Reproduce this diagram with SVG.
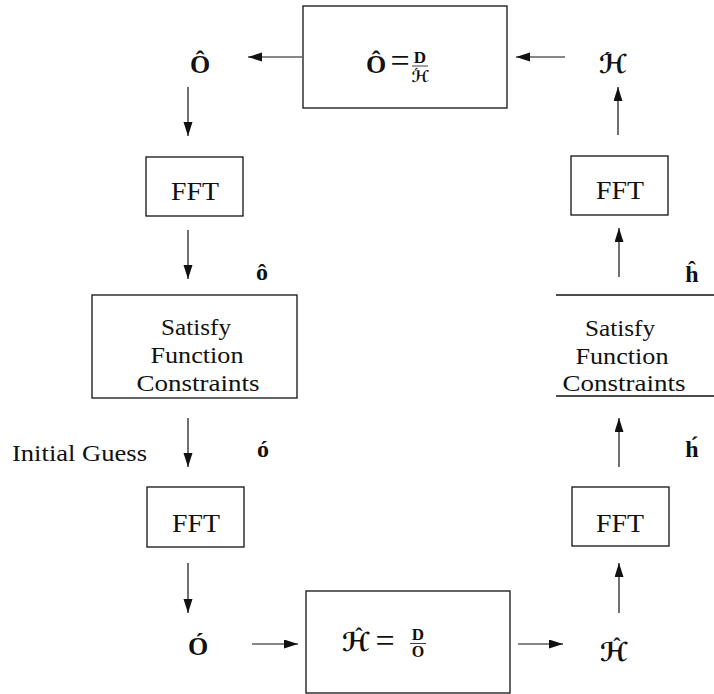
<svg xmlns="http://www.w3.org/2000/svg" width="714" height="694" viewBox="0 0 714 694">
<style>
.box{fill:none;stroke:#111;stroke-width:1.3}
.t{font-family:"Liberation Serif","Times New Roman",serif;font-size:23px;fill:#111;text-anchor:middle}
.f{font-family:"Liberation Serif","Times New Roman",serif;font-size:26px;fill:#111;text-anchor:middle}
.m{font-family:"Liberation Serif",serif;font-weight:bold;font-size:26px;fill:#111;text-anchor:middle}
.ml{font-family:"Liberation Serif",serif;font-weight:bold;font-size:24px;fill:#111;text-anchor:middle}
.eq{font-family:"Liberation Serif",serif;font-size:34px;fill:#111;text-anchor:middle}
.s{font-family:"DejaVu Serif","DejaVu Sans",serif;font-weight:bold;font-size:26px;fill:#111;text-anchor:middle}
.acc{font-family:"Liberation Serif",serif;font-weight:bold;font-size:22px}
.sm{font-family:"Liberation Serif",serif;font-weight:bold;font-size:17px;fill:#111;text-anchor:middle}
.ss{font-family:"DejaVu Serif","DejaVu Sans",serif;font-weight:bold;font-size:16px;fill:#111;text-anchor:middle}
.c{stroke:#111;stroke-width:1.2;fill:none;marker-end:url(#ah)}
</style>
<defs>
<marker id="ah" markerUnits="userSpaceOnUse" markerWidth="15" markerHeight="10" refX="14" refY="4.5" orient="auto">
<path d="M0,0 L14,4.5 L0,9 Z" fill="#111"/>
</marker>
</defs>
<rect width="714" height="694" fill="#fff"/>

<g id="connectors">
<line class="c" x1="302" y1="57" x2="248" y2="57"/>
<line class="c" x1="565" y1="57" x2="516" y2="57"/>
<line class="c" x1="188" y1="87" x2="188" y2="136"/>
<line class="c" x1="188" y1="230" x2="188" y2="279"/>
<line class="c" x1="188" y1="418" x2="188" y2="467"/>
<line class="c" x1="188" y1="563" x2="188" y2="613"/>
<line class="c" x1="252" y1="644" x2="298" y2="644"/>
<line class="c" x1="518" y1="644" x2="563" y2="644"/>
<line class="c" x1="619" y1="613" x2="619" y2="563"/>
<line class="c" x1="619" y1="467" x2="619" y2="418"/>
<line class="c" x1="619" y1="277" x2="619" y2="228"/>
<line class="c" x1="618" y1="135" x2="618" y2="87"/>
</g>

<g id="top-box">
<rect class="box" x="303" y="6" width="204" height="102"/>
<text class="m" x="376" y="73">Ô</text>
<text class="eq" x="400" y="72">=</text>
<text class="sm" x="420" y="63">D</text>
<line x1="412" y1="66" x2="428" y2="66" stroke="#111" stroke-width="0.8"/>
<text class="ss" x="420" y="82">ℋ<tspan class="acc" x="416" y="78" style="font-size:14px">´</tspan></text>
</g>

<g id="label-O-hat"><text class="m" x="200" y="73">Ô</text></g>
<g id="label-H-prime-top">
<text class="s" x="613" y="73">ℋ<tspan class="acc" x="607" y="67">´</tspan></text>
</g>

<g id="fft-1">
<rect class="box" x="146" y="157" width="97" height="59"/>
<text class="f" x="195" y="200" textLength="48" lengthAdjust="spacingAndGlyphs">FFT</text>
</g>

<g id="label-o-hat"><text class="ml" x="262" y="280">ô</text></g>

<g id="satisfy-left">
<rect class="box" x="92" y="295" width="205" height="103"/>
<text class="t" x="196" y="335" textLength="70" lengthAdjust="spacingAndGlyphs">Satisfy</text>
<text class="t" x="197" y="363" textLength="93" lengthAdjust="spacingAndGlyphs">Function</text>
<text class="t" x="198" y="391" textLength="123" lengthAdjust="spacingAndGlyphs">Constraints</text>
</g>

<g id="label-initial-guess"><text class="t" x="12" y="461" style="text-anchor:start" textLength="135" lengthAdjust="spacingAndGlyphs">Initial Guess</text></g>
<g id="label-o-prime"><text class="ml" x="263" y="457">ó</text></g>

<g id="fft-2">
<rect class="box" x="147" y="487" width="97" height="60"/>
<text class="f" x="196" y="532" textLength="48" lengthAdjust="spacingAndGlyphs">FFT</text>
</g>

<g id="label-O-prime"><text class="m" x="198" y="655">Ó</text></g>

<g id="bottom-box">
<rect class="box" x="306" y="591" width="204" height="102"/>
<text class="s" x="356" y="651">ℋ<tspan class="acc" x="359" y="643">ˆ</tspan></text>
<text class="eq" x="385" y="652">=</text>
<text class="sm" x="418" y="640">D</text>
<line x1="410" y1="643.5" x2="426" y2="643.5" stroke="#111" stroke-width="0.8"/>
<text class="sm" x="418" y="657" style="font-size:16px">O</text>
</g>

<g id="label-H-hat">
<text class="s" x="614" y="661">ℋ<tspan class="acc" x="617" y="653">ˆ</tspan></text>
</g>

<g id="fft-3">
<rect class="box" x="572" y="487" width="97" height="59"/>
<text class="f" x="620" y="532" textLength="48" lengthAdjust="spacingAndGlyphs">FFT</text>
</g>

<g id="label-h-prime"><text class="ml" x="692" y="457">h́</text></g>

<g id="satisfy-right">
<line class="box" x1="556" y1="295" x2="714" y2="295"/>
<line class="box" x1="556" y1="396" x2="714" y2="396"/>
<text class="t" x="620" y="336" textLength="70" lengthAdjust="spacingAndGlyphs">Satisfy</text>
<text class="t" x="622" y="364" textLength="93" lengthAdjust="spacingAndGlyphs">Function</text>
<text class="t" x="624" y="391" textLength="123" lengthAdjust="spacingAndGlyphs">Constraints</text>
</g>

<g id="label-h-hat"><text class="ml" x="692" y="282">ĥ</text></g>

<g id="fft-4">
<rect class="box" x="571" y="156" width="97" height="59"/>
<text class="f" x="620" y="199" textLength="48" lengthAdjust="spacingAndGlyphs">FFT</text>
</g>
</svg>
